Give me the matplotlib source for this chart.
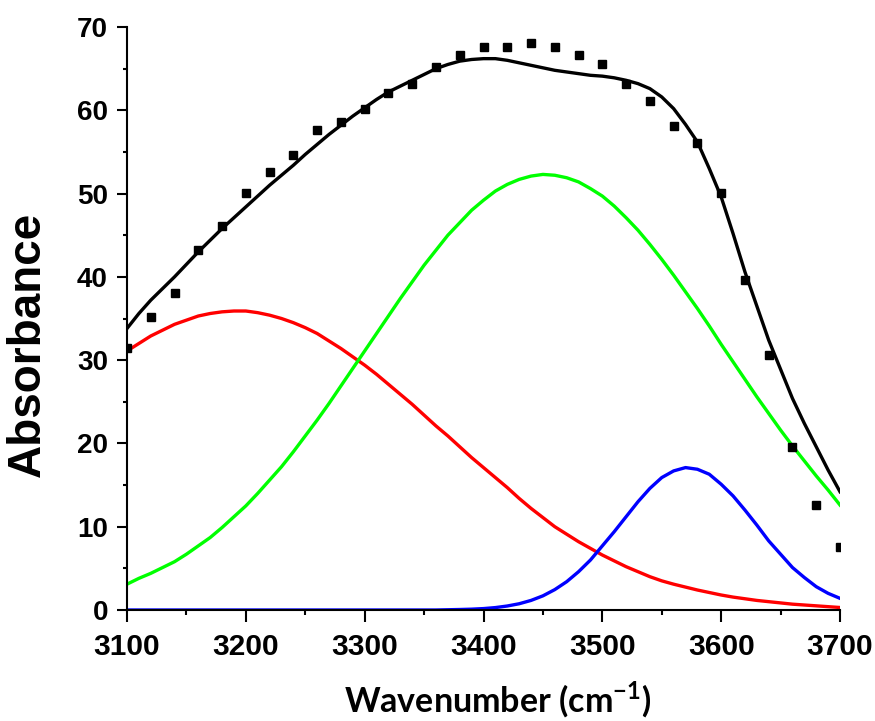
import matplotlib
matplotlib.use('Agg')
import matplotlib.pyplot as plt
from matplotlib.ticker import MultipleLocator

# measured points, every 20 cm-1
wavenumber = [3100, 3120, 3140, 3160, 3180, 3200, 3220, 3240, 3260, 3280,
              3300, 3320, 3340, 3360, 3380, 3400, 3420, 3440, 3460, 3480,
              3500, 3520, 3540, 3560, 3580, 3600, 3620, 3640, 3660, 3680, 3700]
measured = [31.4, 35.2, 38.1, 43.2, 46.1, 50.1, 52.6, 54.6, 57.6, 58.6,
            60.1, 62.1, 63.2, 65.2, 66.6, 67.6, 67.6, 68.1, 67.6, 66.6,
            65.6, 63.1, 61.1, 58.1, 56.1, 50.1, 39.6, 30.6, 19.6, 12.6, 7.6]

# fitted curves read every 10 cm-1
fit_wavenumber = [3100, 3110, 3120, 3130, 3140, 3150, 3160, 3170, 3180, 3190,
                  3200, 3210, 3220, 3230, 3240, 3250, 3260, 3270, 3280, 3290,
                  3300, 3310, 3320, 3330, 3340, 3350, 3360, 3370, 3380, 3390,
                  3400, 3410, 3420, 3430, 3440, 3450, 3460, 3470, 3480, 3490,
                  3500, 3510, 3520, 3530, 3540, 3550, 3560, 3570, 3580, 3590,
                  3600, 3610, 3620, 3630, 3640, 3650, 3660, 3670, 3680, 3690,
                  3700]

fit_total = [33.8, 35.6, 37.2, 38.6, 40.0, 41.5, 43.0, 44.4, 45.8, 47.1,
             48.4, 49.7, 51.0, 52.2, 53.4, 54.7, 55.9, 57.1, 58.2, 59.3,
             60.3, 61.3, 62.2, 62.9, 63.6, 64.3, 65.0, 65.5, 65.9, 66.1,
             66.2, 66.2, 66.0, 65.7, 65.4, 65.1, 64.8, 64.6, 64.4, 64.2,
             64.1, 63.9, 63.6, 63.2, 62.6, 61.6, 60.2, 58.3, 56.2, 53.0,
             49.6, 45.2, 40.6, 36.5, 32.4, 28.9, 25.4, 22.4, 19.6, 16.8,
             14.2]

band_red = [31.1, 32.0, 32.9, 33.6, 34.3, 34.8, 35.3, 35.6, 35.8, 35.9,
            35.9, 35.7, 35.4, 35.0, 34.5, 33.9, 33.2, 32.3, 31.4, 30.4,
            29.4, 28.3, 27.1, 25.9, 24.7, 23.4, 22.1, 20.9, 19.6, 18.3,
            17.1, 15.9, 14.7, 13.4, 12.2, 11.1, 10.0, 9.1, 8.2, 7.4,
            6.6, 5.9, 5.2, 4.6, 4.0, 3.5, 3.1, 2.75, 2.4, 2.1,
            1.8, 1.55, 1.35, 1.15, 1.0, 0.85, 0.7, 0.6, 0.5, 0.4,
            0.3]

band_green = [3.1, 3.8, 4.4, 5.1, 5.8, 6.7, 7.7, 8.7, 9.9, 11.2,
              12.5, 14.0, 15.6, 17.2, 19.0, 20.9, 22.8, 24.8, 26.9, 29.0,
              31.1, 33.2, 35.3, 37.4, 39.4, 41.4, 43.2, 45.0, 46.5, 48.0,
              49.2, 50.3, 51.1, 51.7, 52.1, 52.3, 52.2, 51.9, 51.4, 50.6,
              49.7, 48.5, 47.1, 45.6, 43.9, 42.1, 40.2, 38.2, 36.2, 34.1,
              31.9, 29.8, 27.7, 25.6, 23.6, 21.6, 19.7, 17.9, 16.1, 14.4,
              12.6]

band_blue = [0.0, 0.0, 0.0, 0.0, 0.0, 0.0, 0.0, 0.0, 0.0, 0.0,
             0.0, 0.0, 0.0, 0.0, 0.0, 0.0, 0.0, 0.0, 0.0, 0.0,
             0.0, 0.0, 0.0, 0.0, 0.0, 0.0, 0.0, 0.03, 0.06, 0.10,
             0.17, 0.29, 0.48, 0.75, 1.15, 1.70, 2.45, 3.4, 4.6, 6.0,
             7.7, 9.4, 11.2, 13.0, 14.6, 15.9, 16.7, 17.1, 16.9, 16.3,
             15.1, 13.7, 12.0, 10.2, 8.3, 6.7, 5.1, 3.9, 2.8, 2.0,
             1.4]

plt.rcParams['mathtext.fontset'] = 'custom'
plt.rcParams['mathtext.rm'] = 'Lato:bold'
plt.rcParams['mathtext.bf'] = 'Lato:bold'

fig = plt.figure(figsize=(8.75, 7.21), dpi=100)
ax = fig.add_axes([127/875, 1 - 610/721, (840 - 127)/875, (610 - 27)/721])

ax.plot(fit_wavenumber, band_red, color='#ff0000', lw=2.4, zorder=2)
ax.plot(fit_wavenumber, band_green, color='#00ff00', lw=2.4, zorder=2)
ax.plot(fit_wavenumber, band_blue, color='#0000ff', lw=2.4, zorder=2)
ax.plot(fit_wavenumber, fit_total, color='black', lw=2.4, zorder=3)
ax.plot(wavenumber, measured, 's', color='black', ms=6.2, zorder=4)

ax.set_xlim(3100, 3700)
ax.set_ylim(0, 70)
ax.xaxis.set_major_locator(MultipleLocator(100))
ax.xaxis.set_minor_locator(MultipleLocator(50))
ax.yaxis.set_major_locator(MultipleLocator(10))
ax.yaxis.set_minor_locator(MultipleLocator(5))

for side in ['top', 'right']:
    ax.spines[side].set_visible(False)
for side in ['left', 'bottom']:
    ax.spines[side].set_linewidth(1.5)

ax.tick_params(axis='x', which='major', length=8.6, width=1.5, pad=8)
ax.tick_params(axis='x', which='minor', length=3.6, width=1.5)
ax.tick_params(axis='y', which='major', length=7.2, width=1.5, pad=6.5)
ax.tick_params(axis='y', which='minor', length=2.9, width=1.5)

# tick label fonts: narrow-ish bold on x, Arial-like bold on y
for lab in ax.get_xticklabels():
    lab.set_family('Liberation Sans')
    lab.set_fontweight('bold')
    lab.set_fontsize(21.5)
for lab in ax.get_yticklabels():
    lab.set_family('Liberation Sans')
    lab.set_fontweight('bold')
    lab.set_fontsize(20)

fig.text(28/875, 1 - 344/721, 'Absorbance', rotation=90, ha='center',
         va='center', family='Liberation Sans', fontweight='bold', fontsize=33)
fig.text(498/875, 1 - 712/721, 'Wavenumber (cm$^{-1}$)', ha='center',
         va='baseline', family='Lato', fontweight='bold', fontsize=24.5)

fig.savefig('out.png', dpi=100)
